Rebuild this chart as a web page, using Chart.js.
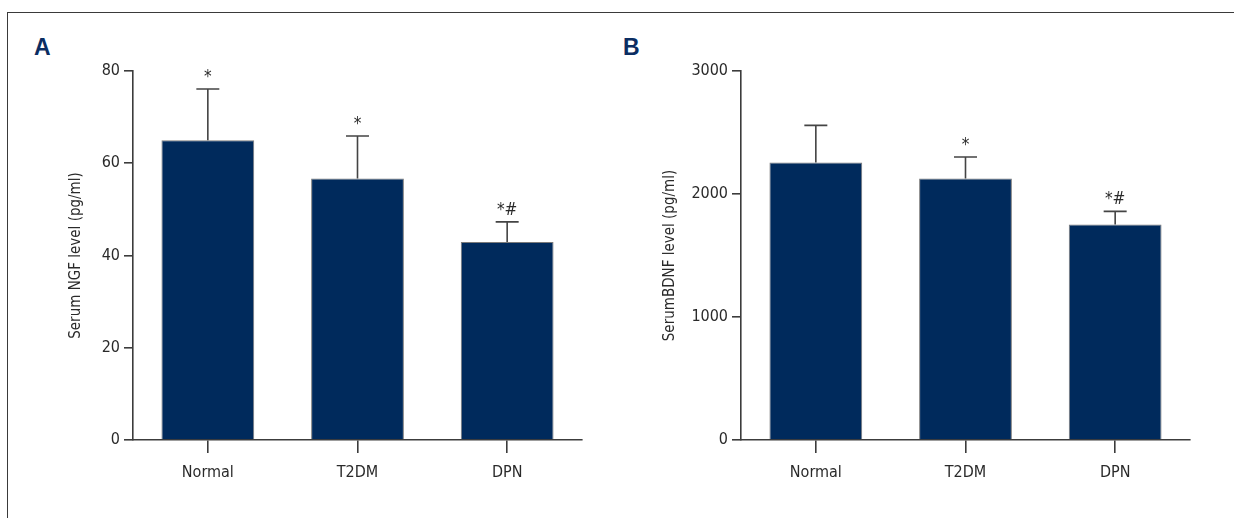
<!DOCTYPE html>
<html>
<head>
<meta charset="utf-8">
<title>Serum NGF / BDNF</title>
<script src="https://cdn.jsdelivr.net/npm/chart.js@4/dist/chart.umd.min.js"></script>
<style>
  html, body { margin: 0; padding: 0; background: #fff; }
  .page { position: relative; width: 1234px; height: 518px; overflow: hidden; }
  .frame { position: absolute; left: 7px; top: 12px; right: -2px; bottom: -2px;
           border-top: 1.5px solid #3a3a3a; border-left: 1.5px solid #3a3a3a; }
  .panel-letter { position: absolute; font-family: 'Liberation Sans', Arial, sans-serif;
                  font-weight: bold; font-size: 23px; color: #0b2d62; line-height: 1; }
  .panel { position: absolute; top: 0; height: 518px; }
</style>
</head>
<body>
<div class="page">
  <div class="frame"></div>
  <div class="panel-letter" style="left:34px; top:36px;">A</div>
  <div class="panel-letter" style="left:623px; top:36px;">B</div>
  <div class="panel" style="left:0; width:608px;"><canvas id="ngf-chart" width="608" height="518"></canvas></div>
  <div class="panel" style="left:608px; width:626px;"><canvas id="bdnf-chart" width="626" height="518"></canvas></div>
</div>

<script>
/* ── Data ── */
const groups = ['Normal', 'T2DM', 'DPN'];

const ngfMean = [65.0, 56.7, 42.9];
const ngfSd = [11.1, 9.2, 4.4];
const ngfSig = ['*', '*', '*#'];
const ngfTicks = [0, 20, 40, 60, 80];

const bdnfMean = [2257, 2127, 1753];
const bdnfSd = [301, 174, 106];
const bdnfSig = ['', '*', '*#'];
const bdnfTicks = [0, 1000, 2000, 3000];

/* ── Styles ── */
const FONT = "'Liberation Sans Narrow', 'DejaVu Sans Condensed', 'Arial Narrow', sans-serif";
const BAR_COLOR = '#002a5c';
const BAR_EDGE = '#7a7a7a';
const AXIS_COLOR = '#3c3c3c';
const TEXT_COLOR = '#2a2a2a';

/* ── Error bars + significance marks ── */
const errorBarPlugin = {
  id: 'errorBars',
  afterDatasetsDraw(chart, args, opts) {
    const { ctx } = chart;
    const yScale = chart.scales.y;
    const meta = chart.getDatasetMeta(0);
    const means = chart.data.datasets[0].data;
    ctx.save();
    ctx.strokeStyle = '#444';
    ctx.lineWidth = 1.6;
    meta.data.forEach((bar, i) => {
      const yBar = yScale.getPixelForValue(means[i]);
      const yTop = yScale.getPixelForValue(means[i] + opts.sd[i]);
      ctx.beginPath();
      ctx.moveTo(bar.x, yBar);
      ctx.lineTo(bar.x, yTop);
      ctx.moveTo(bar.x - 11.5, yTop);
      ctx.lineTo(bar.x + 11.5, yTop);
      ctx.stroke();

      if (opts.sig[i]) {
        ctx.fillStyle = TEXT_COLOR;
        ctx.font = '17px ' + FONT;
        ctx.textAlign = 'center';
        ctx.textBaseline = 'alphabetic';
        ctx.fillText(opts.sig[i], bar.x, yTop - 7);
      }
    });
    ctx.restore();
  }
};

function makeChart(id, means, sd, sig, ticks, title, padRight, titlePad) {
  const el = document.getElementById(id);
  return new Chart(el, {
    type: 'bar',
    data: {
      labels: groups,
      datasets: [{
        data: means,
        backgroundColor: BAR_COLOR,
        borderColor: BAR_EDGE,
        borderWidth: 1,
        barPercentage: 0.62,
        categoryPercentage: 1.0,
      }]
    },
    plugins: [errorBarPlugin],
    options: {
      responsive: false,
      animation: false,
      layout: { padding: { left: 0, right: padRight, top: 71, bottom: 0 } },
      plugins: {
        legend: { display: false },
        tooltip: { enabled: false },
        errorBars: { sd: sd, sig: sig }
      },
      scales: {
        x: {
          grid: { display: true, offset: false, drawOnChartArea: false, drawTicks: true,
                  tickLength: 13, color: AXIS_COLOR, lineWidth: 1.6 },
          border: { display: true, color: AXIS_COLOR, width: 1.6 },
          ticks: { color: TEXT_COLOR, font: { family: FONT, size: 16 }, padding: 10 },
          afterFit: s => { s.height = 78; }
        },
        y: {
          min: ticks[0],
          max: ticks[ticks.length - 1],
          afterBuildTicks: s => { s.ticks = ticks.map(v => ({ value: v })); },
          grid: { display: true, drawOnChartArea: false, drawTicks: true,
                  tickLength: 9, color: AXIS_COLOR, lineWidth: 1.6 },
          border: { display: true, color: AXIS_COLOR, width: 1.6 },
          ticks: { color: TEXT_COLOR, font: { family: FONT, size: 16 }, padding: 4,
                   callback: v => String(v) },
          title: { display: true, text: title, color: TEXT_COLOR,
                   font: { family: FONT, size: 15 }, padding: { top: titlePad, bottom: 0 } },
          afterFit: s => { s.width = 133; }
        }
      }
    }
  });
}

makeChart('ngf-chart', ngfMean, ngfSd, ngfSig, ngfTicks, 'Serum NGF level (pg/ml)', 26, 67);
makeChart('bdnf-chart', bdnfMean, bdnfSd, bdnfSig, bdnfTicks, 'SerumBDNF level (pg/ml)', 44, 53);
</script>
</body>
</html>
